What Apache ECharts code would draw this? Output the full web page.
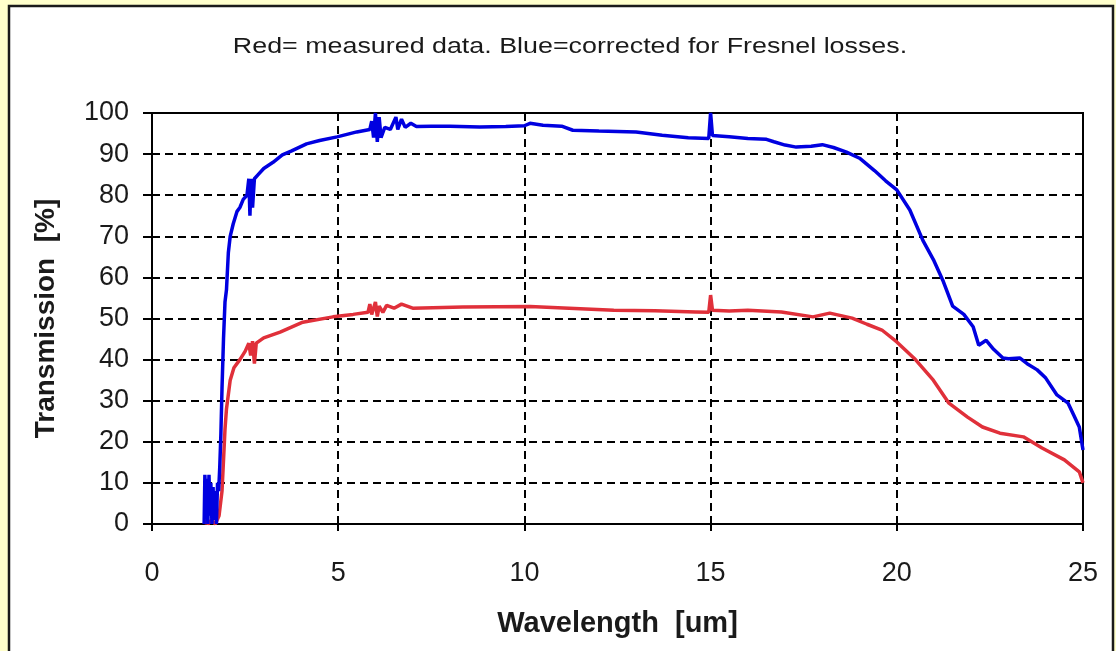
<!DOCTYPE html>
<html>
<head>
<meta charset="utf-8">
<script src="https://cdn.jsdelivr.net/npm/echarts@6/dist/echarts.min.js"></script>
<style>
  html, body { margin: 0; padding: 0; background: #FFFFCC; }
  #chart { width: 1116px; height: 651px; }
</style>
</head>
<body>
<div id="chart"></div>
<script>
// Wavelength [um] and transmission [%] samples for each trace
const blueWavelength = [
  1.40, 1.42, 1.45, 1.47, 1.50, 1.53, 1.56, 1.58, 1.61, 1.64, 1.67, 1.70, 1.73, 1.76, 1.79,
  1.82, 1.85, 1.88, 1.92, 1.96, 2.00, 2.05, 2.10, 2.18, 2.28, 2.36, 2.45, 2.55, 2.60, 2.63,
  2.66, 2.70, 2.75, 2.85, 3.00, 3.25, 3.50, 3.75, 4.15, 4.50, 4.97, 5.50, 5.85, 5.90, 5.95,
  6.00, 6.05, 6.10, 6.15, 6.25, 6.40, 6.55, 6.60, 6.70, 6.80, 6.95, 7.10, 7.50, 8.00, 8.80,
  9.50, 10.00, 10.15, 10.50, 11.00, 11.30, 12.00, 13.00, 13.70, 14.40, 14.95, 15.00, 15.05,
  15.50, 16.00, 16.50, 16.70, 17.00, 17.30, 17.70, 18.00, 18.30, 18.65, 19.00, 19.40, 19.70,
  20.00, 20.35, 20.70, 21.00, 21.25, 21.50, 21.80, 22.05, 22.20, 22.40, 22.60, 22.85, 23.00,
  23.30, 23.50, 23.77, 24.00, 24.30, 24.60, 24.75, 24.90, 25.00
];
const blueTransmission = [
  0, 12, 3, 11, 0, 12, 2, 10, 0, 9, 1, 8, 0, 10, 8,
  14, 22, 33, 45, 54, 57, 66, 70, 73, 76, 77, 79, 80, 84, 75,
  84, 77, 84, 85, 86.5, 88, 89.8, 90.8, 92.5, 93.3, 94.2, 95.4, 96, 98, 94,
  100, 93, 99, 94, 96.5, 96, 99, 96, 98.5, 96.5, 97.5, 96.7, 96.8, 96.8, 96.6,
  96.7, 96.9, 97.5, 97, 96.8, 95.8, 95.6, 95.4, 94.6, 94, 93.8, 100, 94.5,
  94.2, 93.8, 93.6, 93, 92.2, 91.7, 91.9, 92.3, 91.6, 90.5, 89, 86, 83.5,
  81.3, 76.4, 69, 64, 59, 53, 51, 48, 43.5, 44.7, 42.5, 40.4, 40.2,
  40.4, 39, 37.5, 35.5, 31.4, 29.4, 26.5, 23.6, 18
];

const redWavelength = [
  1.40, 1.45, 1.50, 1.60, 1.70, 1.80, 1.88, 1.96, 2.00, 2.10, 2.20, 2.36, 2.50, 2.60, 2.65,
  2.70, 2.75, 2.80, 3.00, 3.44, 4.05, 4.86, 5.40, 5.80, 5.85, 5.90, 6.00, 6.05, 6.10, 6.20,
  6.30, 6.50, 6.70, 7.00, 8.35, 10.15, 11.50, 12.40, 13.50, 14.60, 14.95, 15.00, 15.05, 15.50,
  16.00, 16.90, 17.75, 18.20, 18.80, 19.20, 19.60, 20.00, 20.50, 20.98, 21.40, 21.90, 22.30,
  22.77, 23.40, 23.90, 24.50, 24.90, 25.00
];
const redTransmission = [
  0, 1, 0, 1, 0, 2, 8, 23, 28, 35, 38, 40, 42, 44, 41,
  44.5, 39, 44, 45.3, 46.7, 49.1, 50.4, 51, 51.5, 53.5, 51, 54, 50.5, 53, 51.5,
  53.2, 52.5, 53.5, 52.5, 52.8, 52.9, 52.4, 52, 51.9, 51.6, 51.5, 55.7, 52, 51.8,
  52, 51.6, 50.4, 51.3, 50.1, 48.6, 47.2, 44.3, 40, 35, 29.4, 26, 23.6,
  22.1, 21.2, 18.5, 15.6, 12.7, 10
];

const chartTitle = 'Red= measured data. Blue=corrected for Fresnel losses.';
const xAxisName = 'Wavelength  [um]';
const yAxisName = 'Transmission  [%]';

const pairs = (xs, ys) => xs.map((x, i) => [x, ys[i]]);

const chart = echarts.init(document.getElementById('chart'), null, { renderer: 'canvas' });

const textFont = '"Liberation Sans", Arial, sans-serif';

chart.setOption({
  backgroundColor: '#FFFFCC',
  animation: false,
  graphic: [
    {
      // white chart-area panel with dark frame
      type: 'rect',
      z: -10,
      silent: true,
      shape: { x: 9, y: 6, width: 1104, height: 700 },
      style: { fill: '#ffffff', stroke: '#1a1a1a', lineWidth: 2.5 }
    },
    {
      // caption, drawn slightly wide
      type: 'text',
      x: 570,
      y: 47,
      scaleX: 1.22,
      silent: true,
      style: {
        text: chartTitle,
        font: '22px "Liberation Sans", Arial, sans-serif',
        fill: '#1a1a1a',
        align: 'center',
        verticalAlign: 'middle'
      }
    }
  ],
  grid: {
    left: 152, top: 113, width: 931, height: 411,
    show: true, borderColor: '#000', borderWidth: 2, backgroundColor: '#ffffff'
  },
  xAxis: {
    type: 'value', min: 0, max: 25, interval: 5,
    name: xAxisName, nameLocation: 'middle', nameGap: 85,
    nameTextStyle: { fontFamily: textFont, fontSize: 29, fontWeight: 'bold', color: '#1a1a1a' },
    axisLine: { lineStyle: { color: '#000', width: 2 } },
    axisTick: { show: true, length: 7, lineStyle: { color: '#000', width: 2 } },
    axisLabel: { fontFamily: textFont, fontSize: 27, color: '#1a1a1a', margin: 36 },
    splitLine: { show: true, lineStyle: { color: '#000', width: 2, type: [8, 5] } }
  },
  yAxis: {
    type: 'value', min: 0, max: 100, interval: 10,
    name: yAxisName, nameLocation: 'middle', nameGap: 92, nameRotate: 90,
    nameTextStyle: { fontFamily: textFont, fontSize: 28, fontWeight: 'bold', color: '#1a1a1a' },
    axisLine: { show: true, lineStyle: { color: '#000', width: 2 } },
    axisTick: { show: true, length: 9, lineStyle: { color: '#000', width: 2 } },
    axisLabel: { fontFamily: textFont, fontSize: 27, color: '#1a1a1a', margin: 23 },
    splitLine: { show: true, lineStyle: { color: '#000', width: 2, type: [8, 5] } }
  },
  series: [
    {
      name: 'Measured',
      type: 'line',
      data: pairs(redWavelength, redTransmission),
      showSymbol: false,
      lineStyle: { color: '#e0303a', width: 3.5 },
      z: 3
    },
    {
      name: 'Fresnel corrected',
      type: 'line',
      data: pairs(blueWavelength, blueTransmission),
      showSymbol: false,
      lineStyle: { color: '#0000e0', width: 3.5 },
      z: 4
    }
  ]
});
</script>
</body>
</html>
